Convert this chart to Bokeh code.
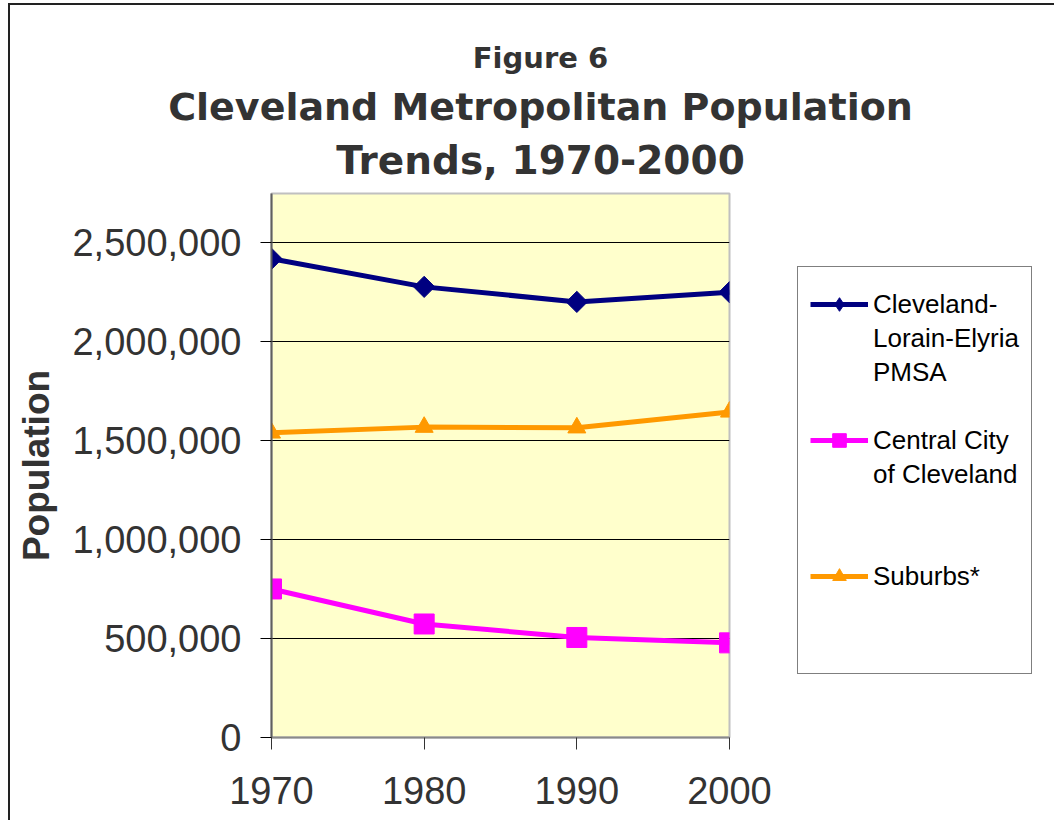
import math
from bokeh.plotting import figure
from bokeh.layouts import column, row
from bokeh.models import (Range1d, FixedTicker, NumeralTickFormatter, Legend, LegendItem, Label)
from bokeh.embed import file_html
from bokeh.resources import INLINE

years = [1970, 1980, 1990, 2000]
pmsa = [2420000, 2278000, 2202000, 2251000]
central_city = [750900, 573800, 505600, 478400]
suburbs = [1540000, 1569000, 1566000, 1646000]
y_ticks = [0, 500000, 1000000, 1500000, 2000000, 2500000]

title_lines = ["Figure 6", "Cleveland Metropolitan Population", "Trends, 1970-2000"]
legend_lines = ["Cleveland-", "Lorain-Elyria", "PMSA", " ", "Central City", "of Cleveland",
                " ", " ", "Suburbs*", " ", " "]

NAVY, MAGENTA, ORANGE = "#000080", "#FF00FF", "#FF9900"
TITLE_H = 191

# ---------------- title strip ----------------
tf = figure(width=1054, height=TITLE_H, output_backend="svg", toolbar_location=None,
            x_range=Range1d(0, 1054), y_range=Range1d(TITLE_H, 0),
            x_axis_location=None, y_axis_location=None, min_border=0)
tf.outline_line_color = None
tf.background_fill_alpha = 0
tf.border_fill_alpha = 0
tf.grid.visible = False
for txt, yy, fs in [(title_lines[0], 57, "29px"), (title_lines[1], 106, "38px"),
                    (title_lines[2], 160, "39px")]:
    tf.add_layout(Label(x=540, y=yy, text=txt, text_font="DejaVu Sans", text_font_style="bold",
                        text_font_size=fs, text_color="#333333",
                        text_align="center", text_baseline="alphabetic"))

# ---------------- main chart ----------------
PH = 820 - TITLE_H
p = figure(width=775, height=PH, output_backend="svg", toolbar_location=None,
           x_range=Range1d(1970, 2000), y_range=Range1d(0, 2750000),
           min_border_left=271, min_border_right=46, min_border_top=2, min_border_bottom=83)
p.background_fill_color = "#FFFFCC"
p.border_fill_alpha = 0
p.outline_line_color = "#C0C0C0"
p.outline_line_width = 2

p.xaxis.ticker = FixedTicker(ticks=years)
p.yaxis.ticker = FixedTicker(ticks=y_ticks)
p.yaxis.formatter = NumeralTickFormatter(format="0,0")
for ax in (p.xaxis[0], p.yaxis[0]):
    ax.major_label_text_font = "Liberation Sans"
    ax.major_label_text_font_size = "38px"
    ax.major_label_text_color = "#333333"
    ax.minor_tick_line_color = None
    ax.major_tick_in = 0
p.xaxis.major_tick_out = 12
p.xaxis.major_tick_line_color = "#333333"
p.xaxis.major_tick_line_width = 1
p.xaxis.axis_line_color = "#8a8a8a"
p.xaxis.axis_line_width = 2
p.xaxis.major_label_standoff = 27
p.yaxis.major_tick_out = 11
p.yaxis.major_tick_line_color = "black"
p.yaxis.axis_line_color = "#606060"
p.yaxis.axis_line_width = 2
p.yaxis.major_label_standoff = 19
p.yaxis.axis_label = "Population"
p.yaxis.axis_label_text_font = "Liberation Sans"
p.yaxis.axis_label_text_font_style = "bold"
p.yaxis.axis_label_text_font_size = "37px"
p.yaxis.axis_label_text_color = "#333333"
p.yaxis.axis_label_standoff = 12

p.xgrid.grid_line_color = None
p.ygrid.grid_line_color = "black"
p.ygrid.grid_line_width = 1

p.line(years, pmsa, line_color=NAVY, line_width=5)
p.scatter(years, pmsa, marker="square", angle=math.pi / 4, size=15, fill_color=NAVY, line_color=NAVY)
p.line(years, central_city, line_color=MAGENTA, line_width=5)
p.scatter(years, central_city, marker="square", size=20, fill_color=MAGENTA, line_color=MAGENTA)
p.line(years, suburbs, line_color=ORANGE, line_width=5)
p.scatter(years, suburbs, marker="triangle", size=18, fill_color=ORANGE, line_color=ORANGE)

# ---------------- legend strip ----------------
lf = figure(width=1054 - 775, height=PH, output_backend="svg", toolbar_location=None,
            x_range=Range1d(0, 1), y_range=Range1d(0, 1),
            x_axis_location=None, y_axis_location=None, min_border=0)
lf.outline_line_color = None
lf.background_fill_alpha = 0
lf.border_fill_alpha = 0
lf.grid.visible = False
# legend sample renderers (their data lie outside this strip's ranges, so only the legend shows them)
g1 = [lf.line(years, pmsa, line_color=NAVY, line_width=5),
      lf.scatter(years, pmsa, marker="diamond", size=20, fill_color=NAVY, line_color=NAVY)]
g2 = [lf.line(years, central_city, line_color=MAGENTA, line_width=5),
      lf.scatter(years, central_city, marker="square", size=20, fill_color=MAGENTA, line_color=MAGENTA)]
g3 = [lf.line(years, suburbs, line_color=ORANGE, line_width=5),
      lf.scatter(years, suburbs, marker="triangle", size=18, fill_color=ORANGE, line_color=ORANGE)]
blank = lf.line(years, suburbs, line_alpha=0)
sample = {"Cleveland-": g1, "Central City": g2, "Suburbs*": g3}
items = [LegendItem(label=t, renderers=sample.get(t, [blank])) for t in legend_lines]
# the strip's frame is aligned with the chart frame (bottom at the x axis), box bottom 63px above it
legend = Legend(items=items, location=(22, 63), orientation="vertical")
legend.title = " "
legend.title_text_font_size = "2px"
legend.title_standoff = 6
legend.glyph_width = 58
legend.glyph_height = 34
legend.label_height = 34
legend.spacing = 0
legend.padding = 12
legend.margin = 0
legend.label_standoff = 5
legend.label_text_font = "Liberation Sans"
legend.label_text_font_size = "26px"
legend.label_text_color = "black"
legend.background_fill_color = "white"
legend.border_line_color = "black"
legend.border_line_width = 1
lf.add_layout(legend, "center")

layout = column(tf, row(p, lf))
layout.styles = {"box-shadow": "inset 8px 3px 0 0 white, inset 10px 5px 0 0 #222222"}

open("out.html", "w").write(file_html(layout, INLINE))
